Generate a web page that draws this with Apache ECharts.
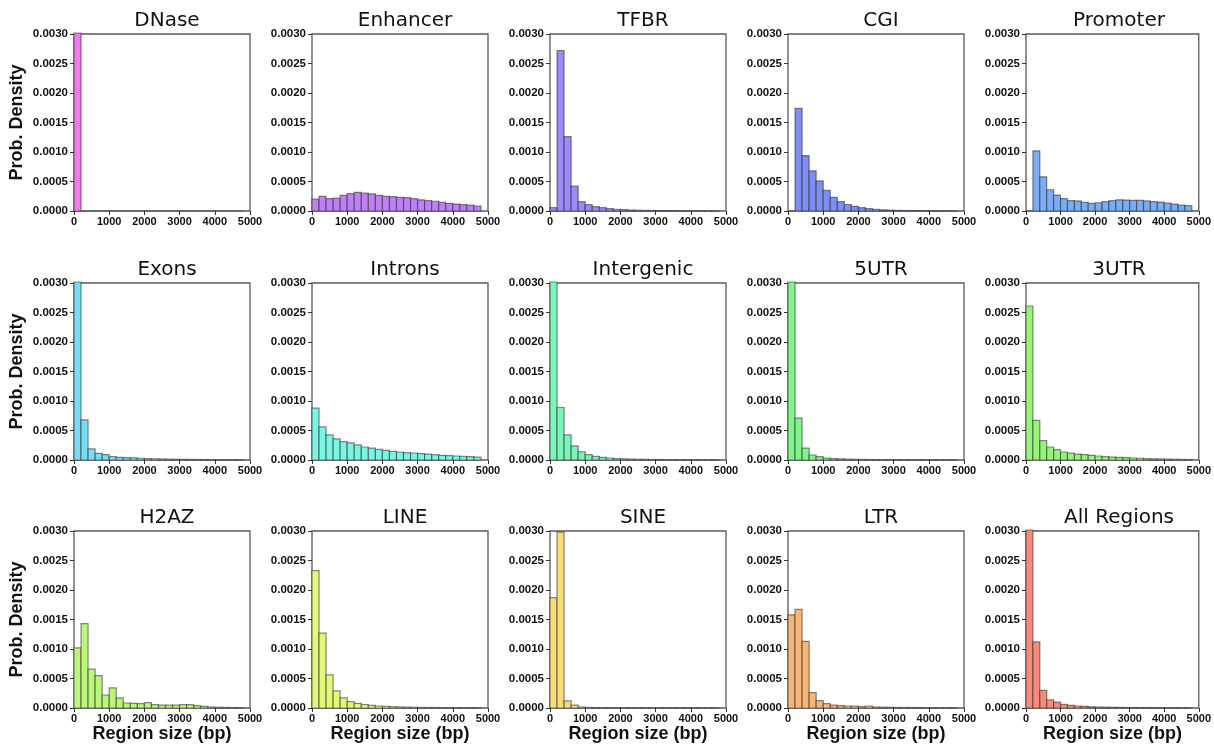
<!DOCTYPE html>
<html>
<head>
<meta charset="utf-8">
<script src="https://cdn.jsdelivr.net/npm/echarts@6/dist/echarts.min.js"></script>
<style>
  html, body { margin: 0; padding: 0; background: #fff; }
  #chart { width: 1214px; height: 749px; }
</style>
</head>
<body>
<div id="chart"></div>
<script>
// bin edges (bp), every bin is 200 wide
const binStart = [0, 200, 400, 600, 800, 1000, 1200, 1400, 1600, 1800, 2000, 2200,
  2400, 2600, 2800, 3000, 3200, 3400, 3600, 3800, 4000, 4200, 4400, 4600];
const binWidth = 200;

const xTicks = [0, 1000, 2000, 3000, 4000, 5000];
const yTicks = [0, 0.0005, 0.001, 0.0015, 0.002, 0.0025, 0.003];

// density per bin
const dnase = [0.0052, 0, 0, 0, 0, 0, 0, 0, 0, 0, 0, 0, 0, 0, 0, 0, 0, 0, 0, 0, 0, 0, 0, 0];
const enhancer = [0.000203, 0.000248, 0.00021, 0.00022, 0.000265, 0.000293, 0.000316, 0.000305,
  0.00029, 0.000265, 0.000248, 0.000243, 0.000231, 0.000226, 0.00021, 0.00019, 0.000175, 0.000165,
  0.000147, 0.00013, 0.000118, 0.000107, 0.0001, 0.000085];
const tfbr = [0.000056, 0.00272, 0.00126, 0.00042, 0.000158, 0.000107, 0.000073, 0.000056, 0.00004,
  0.00003, 0.000022, 0.000017, 0.000013, 0.00001, 0.000008, 0.000007, 0.000006, 0.000005, 0.000004,
  0.000004, 0.000003, 0.000003, 0.000002, 0.000002];
const cgi = [0, 0.00174, 0.00094, 0.00068, 0.00051, 0.00035, 0.00023, 0.00016, 0.00011, 0.00008,
  0.000056, 0.00004, 0.00003, 0.00002, 0.000015, 0.00001, 0.000008, 0.000006, 0.000005, 0.000004,
  0.000003, 0.000003, 0.000002, 0.000002];
const promoter = [0, 0.00102, 0.00058, 0.00036, 0.00027, 0.00021, 0.000175, 0.00017, 0.000147,
  0.00013, 0.00014, 0.000158, 0.000175, 0.00019, 0.000186, 0.00018, 0.00018, 0.00017, 0.000158,
  0.00015, 0.000135, 0.000118, 0.0001, 0.00009];
const exons = [0.0039, 0.00068, 0.000187, 0.000113, 0.00009, 0.000057, 0.000045, 0.00004, 0.000035,
  0.00003, 0.000025, 0.000021, 0.000018, 0.000015, 0.000013, 0.000011, 0.00001, 0.000009, 0.000008,
  0.000007, 0.000006, 0.000005, 0.000005, 0.000004];
const introns = [0.00088, 0.00056, 0.000425, 0.000357, 0.00031, 0.00029, 0.000255, 0.00022, 0.0002,
  0.00018, 0.000164, 0.000147, 0.000136, 0.000125, 0.000119, 0.000108, 0.0001, 0.00009, 0.00008,
  0.000074, 0.000068, 0.000062, 0.000057, 0.00005];
const intergenic = [0.0042, 0.00089, 0.000425, 0.00024, 0.00014, 0.00009, 0.00006, 0.000045,
  0.000034, 0.000025, 0.00002, 0.000016, 0.000013, 0.000011, 0.000009, 0.000008, 0.000007,
  0.000006, 0.000005, 0.000004, 0.000004, 0.000003, 0.000003, 0.000003];
const utr5 = [0.0043, 0.00071, 0.0002, 0.000085, 0.000057, 0.000034, 0.000025, 0.00002, 0.000015,
  0.000012, 0.00001, 0.000008, 0.000007, 0.000006, 0.000005, 0.000004, 0.000004, 0.000003,
  0.000003, 0.000002, 0.000002, 0.000002, 0.000002, 0.000001];
const utr3 = [0.00261, 0.00067, 0.00033, 0.00022, 0.000175, 0.000136, 0.000119, 0.0001, 0.00009,
  0.00008, 0.000068, 0.000057, 0.00005, 0.000045, 0.00004, 0.000034, 0.00003, 0.000025, 0.00002,
  0.000018, 0.000015, 0.000012, 0.00001, 0.000008];
const h2az = [0.00102, 0.00143, 0.00066, 0.00055, 0.00022, 0.00034, 0.00017, 0.000085, 0.00008,
  0.000074, 0.00009, 0.000057, 0.00005, 0.00005, 0.00005, 0.000057, 0.000057, 0.00004, 0.000028,
  0.000017, 0.000011, 0.00001, 0.000008, 0.000005];
const line = [0.00233, 0.00127, 0.00056, 0.00029, 0.00017, 0.000108, 0.00008, 0.000057, 0.000045,
  0.000034, 0.000028, 0.000022, 0.000018, 0.000015, 0.000012, 0.00001, 0.000009, 0.000008,
  0.000007, 0.000006, 0.000005, 0.000004, 0.000004, 0.000003];
const sine = [0.00187, 0.00298, 0.00012, 0.00005, 0.000017, 0.00001, 0.000006, 0.000005, 0.000004,
  0.000004, 0.000003, 0.000003, 0.000003, 0.000002, 0.000002, 0.000002, 0.000002, 0.000002,
  0.000001, 0.000001, 0.000001, 0.000001, 0.000001, 0.000001];
const ltr = [0.00158, 0.00167, 0.00113, 0.00026, 0.000125, 0.000074, 0.00005, 0.00004, 0.000034,
  0.000034, 0.000023, 0.000034, 0.000017, 0.000015, 0.000012, 0.00001, 0.000009, 0.000008,
  0.000007, 0.000006, 0.000005, 0.000005, 0.000004, 0.000004];
const allRegions = [0.0045, 0.00112, 0.0003, 0.00014, 0.0001, 0.00006, 0.000045, 0.000034,
  0.000028, 0.00002, 0.000017, 0.000014, 0.000012, 0.00001, 0.000009, 0.000008, 0.000007,
  0.000006, 0.000005, 0.000005, 0.000004, 0.000004, 0.000003, 0.000003];

const names = ["DNase", "Enhancer", "TFBR", "CGI", "Promoter",
  "Exons", "Introns", "Intergenic", "5UTR", "3UTR",
  "H2AZ", "LINE", "SINE", "LTR", "All Regions"];
const values = [dnase, enhancer, tfbr, cgi, promoter,
  exons, introns, intergenic, utr5, utr3,
  h2az, line, sine, ltr, allRegions];
const colors = ["#f07bf0", "#bf80f5", "#9b8af8", "#7d8ef5", "#79aef7",
  "#79dcf5", "#7af5e3", "#7af5b8", "#80f58a", "#95f57a",
  "#bbf57a", "#e5f77a", "#f7dc78", "#f7b677", "#f78a7a"];

// panel layout
const colLeft = [74, 312, 550, 788, 1026];
const rowTop = [34, 283, 531];
const plotW = 176;
const plotH = 177;

const font = "Liberation Sans, Arial, sans-serif";
const titleFont = "DejaVu Sans, sans-serif";

const grid = [], xAxis = [], yAxis = [], series = [], title = [];

names.forEach((name, i) => {
  const r = Math.floor(i / 5);
  const c = i % 5;
  const color = colors[i];

  grid.push({
    left: colLeft[c], top: rowTop[r], width: plotW, height: plotH,
    show: true, borderColor: "#5a5a5a", borderWidth: 1.3, backgroundColor: "#fff"
  });

  title.push({
    text: name,
    left: colLeft[c] + plotW / 2,
    top: rowTop[r] - 28,
    textAlign: "center",
    textStyle: { fontFamily: titleFont, fontSize: 20, fontWeight: "normal", color: "#111" }
  });

  xAxis.push({
    type: "value", gridIndex: i,
    min: xTicks[0], max: xTicks[xTicks.length - 1], interval: 1000,
    axisLine: { show: false },
    axisTick: { show: true, length: 4, lineStyle: { color: "#333", width: 1 } },
    splitLine: { show: false },
    axisLabel: {
      margin: 5, fontFamily: font, fontSize: 11, fontWeight: "bold", color: "#111",
      formatter: v => String(v)
    },
    name: r === 2 ? "Region size (bp)" : "",
    nameLocation: "middle", nameGap: 14,
    nameTextStyle: { fontFamily: font, fontSize: 18, fontWeight: "bold", color: "#111", verticalAlign: "top" }
  });

  yAxis.push({
    type: "value", gridIndex: i,
    min: yTicks[0], max: yTicks[yTicks.length - 1], interval: 0.0005,
    axisLine: { show: false },
    axisTick: { show: true, length: 4, lineStyle: { color: "#333", width: 1 } },
    splitLine: { show: false },
    axisLabel: {
      margin: 6, fontFamily: font, fontSize: 11.5, fontWeight: "bold", color: "#111",
      formatter: v => v.toFixed(4)
    },
    name: c === 0 ? "Prob. Density" : "",
    nameLocation: "middle", nameGap: 48,
    nameTextStyle: { fontFamily: font, fontSize: 18, fontWeight: "bold", color: "#111" }
  });

  series.push({
    type: "custom",
    xAxisIndex: i, yAxisIndex: i,
    encode: { x: [0, 1], y: 2 },
    data: values[i].map((v, k) => [binStart[k], binStart[k] + binWidth, v]),
    renderItem(params, api) {
      const p0 = api.coord([api.value(0), 0]);
      const p1 = api.coord([api.value(1), api.value(2)]);
      const cs = params.coordSys;
      const rect = echarts.graphic.clipRectByRect(
        { x: p0[0], y: p1[1], width: p1[0] - p0[0], height: p0[1] - p1[1] },
        { x: cs.x, y: cs.y - 1, width: cs.width, height: cs.height + 1 }
      );
      if (!rect) return null;
      return {
        type: "rect",
        shape: rect,
        style: { fill: color, stroke: "rgba(40,40,40,0.55)", lineWidth: 1.2 }
      };
    }
  });
});

const chart = echarts.init(document.getElementById("chart"));
chart.setOption({
  animation: false,
  backgroundColor: "#fff",
  title, grid, xAxis, yAxis, series
});
</script>
</body>
</html>
